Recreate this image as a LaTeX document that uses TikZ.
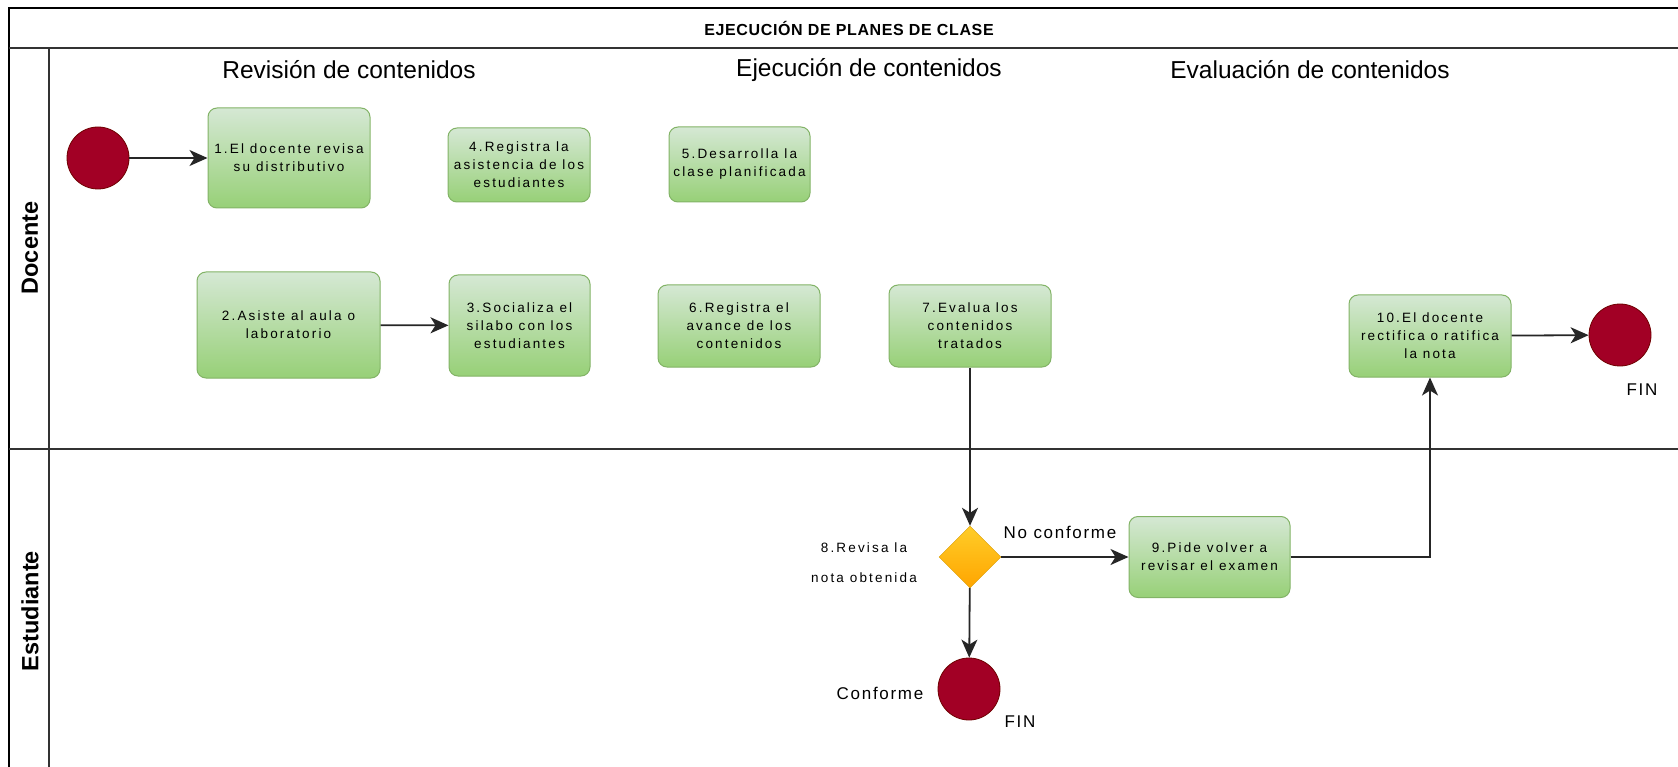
\documentclass[tikz,border=0pt]{standalone}
\usepackage{fontspec}
\setmainfont{Liberation Sans}
\newfontfamily\boxfont[LetterSpace=16]{Liberation Sans}
\newfontfamily\lblfont[LetterSpace=10]{Liberation Sans}
\newfontfamily\ttlfont[LetterSpace=4]{Liberation Sans}
\usetikzlibrary{shapes.geometric,arrows.meta}
\definecolor{gtop}{HTML}{D5E8D4}
\definecolor{gbot}{HTML}{97D077}
\definecolor{gline}{HTML}{82B366}
\definecolor{ered}{HTML}{A20025}
\definecolor{eline}{HTML}{6F0000}
\definecolor{ytop}{HTML}{FFCD28}
\definecolor{ybot}{HTML}{FFA500}
\definecolor{yline}{HTML}{D79B00}
\tikzset{
 task/.style={draw=gline, line width=1pt, rounded corners=9pt, top color=gtop, bottom color=gbot, align=center, inner sep=0pt, font=\boxfont\fontsize{13.5}{18}\selectfont},
 ev/.style={circle, draw=eline, fill=ered, minimum size=62pt, inner sep=0pt, line width=0.8pt},
 gate/.style={diamond, draw=yline, top color=ytop, bottom color=ybot, minimum width=62pt, minimum height=62pt, inner sep=0pt, aspect=1},
 flow/.style={draw=black!85, line width=1.8pt, -{Stealth[length=18pt,width=16pt,inset=5pt]}},
 lane/.style={draw=black!80, line width=1.8pt},
 hdr/.style={font=\fontsize{24.5}{28}\selectfont},
 lbl/.style={font=\lblfont\fontsize{17}{20}\selectfont},
 small/.style={font=\boxfont\fontsize{13.5}{18}\selectfont, align=center},
 lanelbl/.style={rotate=90, font=\bfseries\fontsize{23.5}{28}\selectfont},
}
\begin{document}
\begin{tikzpicture}[x=1pt,y=-1pt]
\useasboundingbox (0,0) rectangle (1678,767);
% pool frame
\draw[line width=2pt, black] (1678,8) -- (9,8) -- (9,775);
\draw[lane] (9,48) -- (1678,48);
\draw[lane] (49,48) -- (49,775);
\draw[lane] (9,449) -- (1678,449);
\node[font=\ttlfont\bfseries\fontsize{16}{18}\selectfont] (title) at (849,28) {EJECUCIÓN DE PLANES DE CLASE};
\node[lanelbl] (ldoc) at (30,248) {Docente};
\node[lanelbl] (lest) at (30,611) {Estudiante};
% column headers
\node[hdr] (h1) at (349,70) {Revisión de contenidos};
\node[hdr] (h2) at (869,70) {Ejecución de contenidos};
\node[hdr] (h3) at (1310,70) {Evaluación de contenidos};
% events
\node[ev] (start) at (98,158) {};
\node[ev] (end1) at (1620,335) {};
\node[ev] (end2) at (969,689) {};
% tasks
\node[task, minimum width=162pt, minimum height=100pt] (t1) at (289,158) {1.El docente revisa\\su distributivo};
\node[task, minimum width=142pt, minimum height=74pt] (t4) at (519,165) {4.Registra la\\asistencia de los\\estudiantes};
\node[task, minimum width=141pt, minimum height=75pt] (t5) at (739.5,164.5) {5.Desarrolla la\\clase planificada};
\node[task, minimum width=183pt, minimum height=106pt] (t2) at (288.5,325) {2.Asiste al aula o\\laboratorio};
\node[task, minimum width=141pt, minimum height=101pt] (t3) at (519.5,325.5) {3.Socializa el\\silabo con los\\estudiantes};
\node[task, minimum width=162pt, minimum height=82pt] (t6) at (739,326) {6.Registra el\\avance de los\\contenidos};
\node[task, minimum width=162pt, minimum height=82pt] (t7) at (970,326) {7.Evalua los\\contenidos\\tratados};
\node[task, minimum width=162pt, minimum height=82pt] (t10) at (1430,336) {10.El docente\\rectifica o ratifica\\la nota};
\node[task, minimum width=161pt, minimum height=81pt] (t9) at (1209.5,557) {9.Pide volver a\\revisar el examen};
\node[gate] (g8) at (970,557) {};
% labels
\node[small, font=\boxfont\fontsize{13.5}{30}\selectfont] (l8) at (864,563) {8.Revisa la\\nota obtenida};
\node[lbl] (lno) at (1060,532) {No conforme};
\node[lbl] (lsi) at (880,693) {Conforme};
\node[lbl] (fin2) at (1020,722) {FIN};
\node[lbl] (fin1) at (1642,390) {FIN};
% flows
\draw[flow] (start) -- (t1);
\draw[flow] (t2) -- (t3);
\draw[flow] (t7) -- (g8);
\draw[flow] (g8) -- (t9);
\draw[flow] (g8) -- (end2);
\draw[flow] (t9.east) -| (t10.south);
\draw[flow] (t10) -- (end1);
\end{tikzpicture}
\end{document}
